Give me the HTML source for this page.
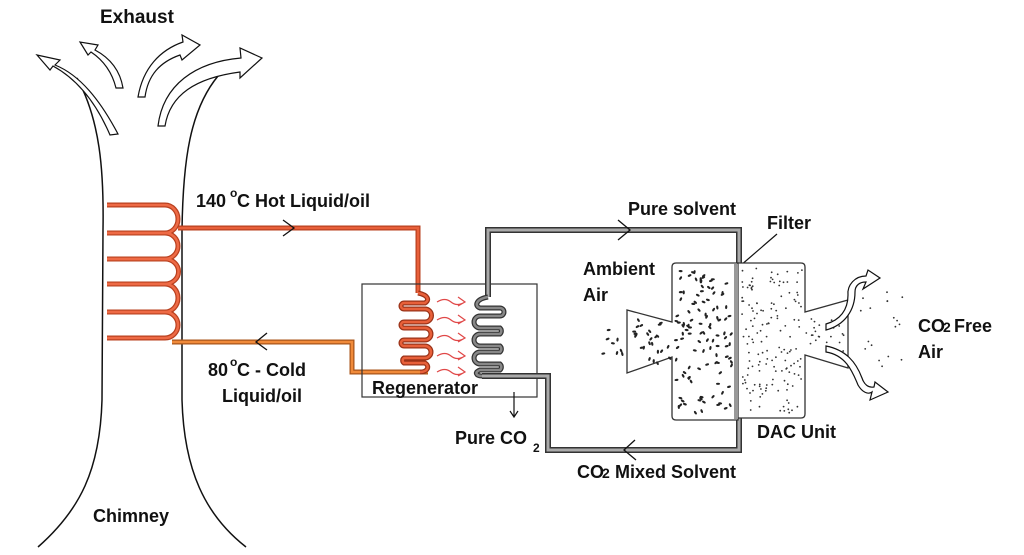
<!DOCTYPE html>
<html><head><meta charset="utf-8"><style>
html,body{margin:0;padding:0;background:#fff;}
svg{display:block;}
text{font-family:"Liberation Sans",sans-serif;font-weight:bold;fill:#111;}
</style></head><body>
<svg id="s" width="1024" height="555" viewBox="0 0 1024 555" xmlns="http://www.w3.org/2000/svg">
<!-- chimney -->
<path d="M77,78 C100,120 104,170 103,230 L102,400 C100,470 80,510 38,547" fill="none" stroke="#111" stroke-width="1.5"/>
<path d="M218,76 C190,110 183,160 182,230 L182,400 C184,470 205,515 246,547" fill="none" stroke="#111" stroke-width="1.5"/>
<!-- exhaust arrows -->
<g fill="#fff" stroke="#111" stroke-width="1.2">
<path d="M118,134 C100,100 80,75 55,65 L60,60 L37,55 L50,70 L53,66 C75,78 95,100 110,135 Z"/>
<path d="M123,88 C120,70 110,58 95,50 L98,45 L80,42 L88,55 L91,52 C103,60 112,72 116,88 Z"/>
<path d="M145,97 C148,75 160,62 180,55 L182,60 L200,45 L182,35 L183,42 C160,50 143,68 138,97 Z"/>
<path d="M165,126 C170,95 195,78 240,72 L240,78 L262,58 L240,48 L241,58 C195,62 163,85 158,126 Z"/>
</g>
<text x="100" y="23" font-size="19">Exhaust</text>
<!-- hot/cold lines -->
<g fill="none" stroke-linejoin="miter">
<path d="M178,228 H418 V293" stroke="#b8401f" stroke-width="5"/>
<path d="M178,228 H418 V293" stroke="#e8603a" stroke-width="2.5"/>
<path d="M172,342 H352 V372 H428" stroke="#a8551a" stroke-width="5"/>
<path d="M172,342 H352 V372 H428" stroke="#f08a3a" stroke-width="2.5"/>
</g>
<path d="M283,220 L294,228 L283,236" fill="none" stroke="#111" stroke-width="1.3"/>
<path d="M267,333 L256,342 L267,350" fill="none" stroke="#111" stroke-width="1.3"/>
<!-- chimney coils -->
<g fill="none" stroke="#b8401f" stroke-width="5">
<path d="M107,205 H165 A13,14 0 0 1 165,233 H107"/>
<path d="M107,233 H165 A13,13 0 0 1 165,259 H107"/>
<path d="M107,259 H165 A13,12 0 0 1 165,284 H107"/>
<path d="M107,284 H165 A13,14 0 0 1 165,312 H107"/>
<path d="M107,312 H165 A13,13 0 0 1 165,338 H107"/>
</g>
<g fill="none" stroke="#ee6a45" stroke-width="2.5">
<path d="M107,205 H165 A13,14 0 0 1 165,233 H107"/>
<path d="M107,233 H165 A13,13 0 0 1 165,259 H107"/>
<path d="M107,259 H165 A13,12 0 0 1 165,284 H107"/>
<path d="M107,284 H165 A13,14 0 0 1 165,312 H107"/>
<path d="M107,312 H165 A13,13 0 0 1 165,338 H107"/>
</g>
<text x="196" y="207" font-size="18">140</text><text x="230" y="197" font-size="12" font-weight="normal">o</text><text x="237" y="207" font-size="18">C Hot Liquid/oil</text>
<text x="208" y="376" font-size="18">80</text><text x="230" y="366" font-size="12" font-weight="normal">o</text><text x="237" y="376" font-size="18">C - Cold</text>
<text x="222" y="402" font-size="18">Liquid/oil</text>
<!-- regenerator -->
<rect x="362" y="284" width="175" height="113" fill="none" stroke="#333" stroke-width="1.2"/>
<g fill="none" stroke="#9a3218" stroke-width="5">
<path d="M418,293 C428,295 430,300 425,303 H404 A3,3 0 0 0 404,309 H425 A6,6 0 0 1 425,322 H404 A3,3 0 0 0 404,328 H425 A6,6 0 0 1 425,340 H404 A3,3 0 0 0 404,346 H425 A6,6 0 0 1 425,358 H404 A3,3 0 0 0 404,363 H425 C430,366 428,372 420,372"/>
</g>
<g fill="none" stroke="#e8603a" stroke-width="2.5">
<path d="M418,293 C428,295 430,300 425,303 H404 A3,3 0 0 0 404,309 H425 A6,6 0 0 1 425,322 H404 A3,3 0 0 0 404,328 H425 A6,6 0 0 1 425,340 H404 A3,3 0 0 0 404,346 H425 A6,6 0 0 1 425,358 H404 A3,3 0 0 0 404,363 H425 C430,366 428,372 420,372"/>
</g>
<g fill="none" stroke="#e04848" stroke-width="1.2">
<path d="M437,302 q8,-5 14,0 t14,0 M458,297 l7,5 -7,4"/>
<path d="M437,320 q8,-5 14,0 t14,0 M458,315 l7,5 -7,4"/>
<path d="M437,338 q8,-5 14,0 t14,0 M458,333 l7,5 -7,4"/>
<path d="M437,356 q8,-5 14,0 t14,0 M458,351 l7,5 -7,4"/>
<path d="M437,372 q8,-5 14,0 t14,0 M458,367 l7,5 -7,4"/>
</g>
<!-- grey solvent loop -->
<g fill="none">
<path d="M488,297 V230 H739 V450 H548 V376 H482" stroke="#333" stroke-width="6"/>
<path d="M488,297 V230 H739 V450 H548 V376 H482" stroke="#aaa" stroke-width="3"/>
<path d="M488,297 C476,299 474,306 480,308 H500 A4,4 0 0 1 500,316 H480 A6,6 0 0 0 480,328 H500 A4,4 0 0 1 500,334 H480 A6,6 0 0 0 480,346 H500 A4,4 0 0 1 500,352 H480 A6,6 0 0 0 480,364 H500 A4,4 0 0 1 500,370 H480 C474,372 476,376 482,376" stroke="#333" stroke-width="5"/>
<path d="M488,297 C476,299 474,306 480,308 H500 A4,4 0 0 1 500,316 H480 A6,6 0 0 0 480,328 H500 A4,4 0 0 1 500,334 H480 A6,6 0 0 0 480,346 H500 A4,4 0 0 1 500,352 H480 A6,6 0 0 0 480,364 H500 A4,4 0 0 1 500,370 H480 C474,372 476,376 482,376" stroke="#888" stroke-width="2.5"/>
</g>
<path d="M618,220 L630,230 L618,240" fill="none" stroke="#111" stroke-width="1.3"/>
<path d="M635,440 L624,450 L636,460" fill="none" stroke="#111" stroke-width="1.3"/>
<path d="M514,392 V416 M510,411 L514,417 L518,411" fill="none" stroke="#111" stroke-width="1.2"/>
<text x="372" y="394" font-size="18">Regenerator</text>
<text x="455" y="444" font-size="18">Pure CO</text><text x="533" y="452" font-size="12">2</text>
<text x="628" y="215" font-size="18">Pure solvent</text>
<text x="577" y="478" font-size="18">CO</text><text x="602" y="478" font-size="14">2</text><text x="615" y="478" font-size="18">Mixed  Solvent</text>
<text x="583" y="275" font-size="18">Ambient</text>
<text x="583" y="301" font-size="18">Air</text>
<text x="767" y="229" font-size="18">Filter</text>
<path d="M777,234 L740,266" stroke="#111" stroke-width="1.2"/>
<!-- DAC -->
<path d="M676,263 H738 V420 H676 Q672,420 672,416 V357 L627,373 V310 L672,322 V267 Q672,263 676,263 Z" fill="#fff" stroke="#333" stroke-width="1.3"/>
<path d="M738,263 H801 Q805,263 805,267 V312 L848,300 V368 L805,355 V414 Q805,418 801,418 H738 Z" fill="#fff" stroke="#333" stroke-width="1.3"/>
<rect x="734" y="264" width="4" height="155" fill="#999"/>
<g id="dots"></g>
<g fill="#fff" stroke="#111" stroke-width="1.2">
<path d="M826,330 C845,325 855,310 855,292 C855,285 860,282 866,282 L863,289 L880,278 L868,270 L866,276 C855,276 847,285 848,295 C848,310 840,320 826,324 Z"/>
<path d="M826,352 C845,355 852,370 858,385 C862,392 868,395 872,392 L870,400 L888,392 L875,382 L874,387 C868,388 864,384 862,378 C856,362 846,350 826,346 Z"/>
</g>
<text x="918" y="332" font-size="18">CO</text><text x="943" y="332" font-size="14">2</text><text x="954" y="332" font-size="18">Free</text>
<text x="918" y="358" font-size="18">Air</text>
<text x="757" y="438" font-size="18">DAC Unit</text>
<text x="93" y="522" font-size="18">Chimney</text>
</svg>
<script>
(function(){
var g=document.getElementById('dots');var seed=7;
function r(){seed=(seed*9301+49297)%233280;return seed/233280;}
var h='';
function add(x0,y0,w,hh,n,rad,elong){for(var i=0;i<n;i++){var x=x0+r()*w,y=y0+r()*hh;
if(elong){h+='<ellipse cx="'+x.toFixed(1)+'" cy="'+y.toFixed(1)+'" rx="1.1" ry="2" fill="#222" transform="rotate('+(r()*180|0)+' '+x.toFixed(1)+' '+y.toFixed(1)+')"/>';}
else h+='<circle cx="'+x.toFixed(1)+'" cy="'+y.toFixed(1)+'" r="'+rad+'" fill="#333"/>';}}
add(676,268,56,148,110,0,1);
add(632,320,38,45,25,0,1);
add(603,330,20,30,8,0,1);
add(742,268,60,146,150,0.9,0);
add(806,318,38,36,25,0.9,0);
add(860,290,45,80,18,0.9,0);
g.innerHTML=h;
})();
</script>
</body></html>
